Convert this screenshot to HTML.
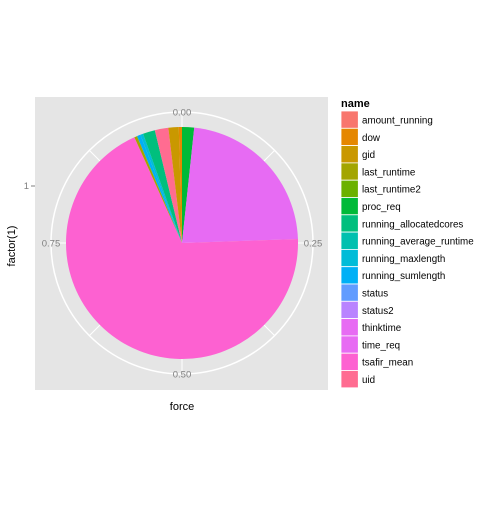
<!DOCTYPE html>
<html><head><meta charset="utf-8"><style>
body{margin:0;background:#fff;font-family:"Liberation Sans",Arial,sans-serif}
svg text{font-family:"Liberation Sans",Arial,sans-serif}
</style></head><body>
<svg id="c" width="504" height="504" viewBox="0 0 504 504">
<rect x="0" y="0" width="504" height="504" fill="#fff"/>
<rect x="35" y="97" width="293" height="293" fill="#e5e5e5"/>
<g id="grid"></g>
<g id="pie"></g>
<g id="ticks"></g>
<text x="182" y="410" font-size="11" text-anchor="middle" fill="#000">force</text>
<text x="15" y="246" font-size="11" text-anchor="middle" fill="#000" transform="rotate(-90 15 246)">factor(1)</text>
<text x="29" y="189" font-size="9.5" text-anchor="end" fill="#7f7f7f">1</text>
<line x1="31" y1="186" x2="35" y2="186" stroke="#7f7f7f"/>
<text x="341" y="107" font-size="11" font-weight="bold" fill="#000">name</text>
<g id="legend"></g>
</svg>
<script>
const categories=["amount_running","dow","gid","last_runtime","last_runtime2","proc_req","running_allocatedcores","running_average_runtime","running_maxlength","running_sumlength","status","status2","thinktime","time_req","tsafir_mean","uid"];
const colors=["#F8766D","#E58700","#C99800","#A3A500","#6BB100","#00BA38","#00BF7D","#00C0AF","#00BCD8","#00B0F6","#619CFF","#B983FF","#E76BF3","#E76BF3","#FD61D1","#FF6C91"];
// slice order clockwise from top, with fraction values
const sliceNames=["proc_req","time_req","tsafir_mean","last_runtime","running_sumlength","running_maxlength","running_allocatedcores","uid","gid","dow"];
const sliceValues=[0.017,0.230,0.695,0.004,0.005,0.004,0.017,0.019,0.0145,0.0045];
const tickVals=[0,0.25,0.5,0.75];
const tickLabels=["0.00","0.25","0.50","0.75"];
const NS="http://www.w3.org/2000/svg";
const cx=182,cy=243,R=116,RG=131;
function pt(f,r){const a=f*2*Math.PI;return [cx+r*Math.sin(a),cy-r*Math.cos(a)];}
const grid=document.getElementById('grid');
for(let i=0;i<8;i++){const p=pt(i/8,RG);const l=document.createElementNS(NS,'line');
l.setAttribute('x1',cx);l.setAttribute('y1',cy);l.setAttribute('x2',p[0]);l.setAttribute('y2',p[1]);
l.setAttribute('stroke','#fff');l.setAttribute('stroke-width','1');


grid.appendChild(l);}
const circ=document.createElementNS(NS,'circle');circ.setAttribute('cx',cx);circ.setAttribute('cy',cy);circ.setAttribute('r',RG);circ.setAttribute('fill','none');circ.setAttribute('stroke','#fff');circ.setAttribute('stroke-width','1.5');


grid.appendChild(circ);
const pie=document.getElementById('pie');
const total=sliceValues.reduce((a,b)=>a+b,0);
let acc=0;
sliceNames.forEach((n,i)=>{const f0=acc/total;acc+=sliceValues[i];const f1=acc/total;
const p0=pt(f0,R),p1=pt(f1,R);const large=(f1-f0)>0.5?1:0;
const p=document.createElementNS(NS,'path');
p.setAttribute('d',`M${cx},${cy}L${p0[0]},${p0[1]}A${R},${R} 0 ${large} 1 ${p1[0]},${p1[1]}Z`);
p.setAttribute('fill',colors[categories.indexOf(n)]);


pie.appendChild(p);});
const ticks=document.getElementById('ticks');
tickVals.forEach((v,i)=>{const p=pt(v,RG);const t=document.createElementNS(NS,'text');
t.setAttribute('x',p[0]);t.setAttribute('y',p[1]+3.5);t.setAttribute('font-size','9.5');t.setAttribute('fill','#7f7f7f');t.setAttribute('text-anchor','middle');
t.textContent=tickLabels[i];


ticks.appendChild(t);});
const lg=document.getElementById('legend');
categories.forEach((n,i)=>{const y=111+i*17.3;
const r=document.createElementNS(NS,'rect');r.setAttribute('x',341);r.setAttribute('y',y);r.setAttribute('width',17.3);r.setAttribute('height',17.3);r.setAttribute('fill',colors[i]);r.setAttribute('stroke','#fff');r.setAttribute('stroke-width','0.8');


lg.appendChild(r);
const t=document.createElementNS(NS,'text');t.setAttribute('x',362);t.setAttribute('y',y+12.5);t.setAttribute('font-size','9.8');t.setAttribute('fill','#000');t.textContent=n;


lg.appendChild(t);});
</script>
</body></html>
